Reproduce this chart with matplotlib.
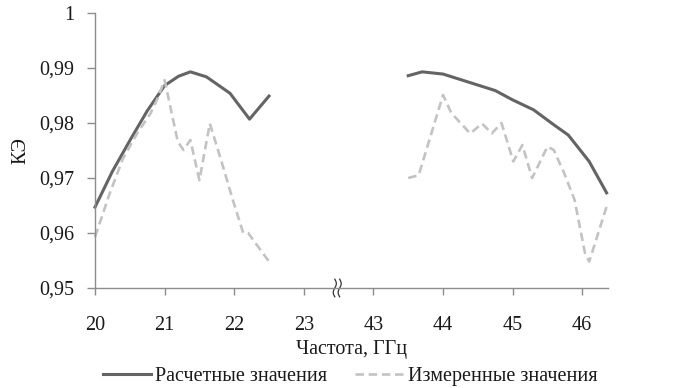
import matplotlib
matplotlib.use("Agg")
import matplotlib.pyplot as plt
import numpy as np

plt.rcParams['font.family'] = ['Liberation Serif', 'DejaVu Serif']

# tick labels of the broken frequency axis
freq_labels = ['20', '21', '22', '23', '43', '44', '45', '46']
y_ticks = [0.95, 0.96, 0.97, 0.98, 0.99, 1.0]
y_labels = ['0,95', '0,96', '0,97', '0,98', '0,99', '1']

# calculated values (solid line)
calc_f_low = [20.0, 20.25, 20.5, 20.75, 21.0, 21.2, 21.37, 21.6, 21.94, 22.22, 22.5]
calc_v_low = [0.9647, 0.9712, 0.9768, 0.9822, 0.9868, 0.9885, 0.9893, 0.9884, 0.9854, 0.9807, 0.9849]
calc_f_high = [43.5, 43.7, 44.0, 44.25, 44.75, 45.0, 45.3, 45.6, 45.8, 46.1, 46.35]
calc_v_high = [0.9886, 0.9893, 0.9889, 0.9879, 0.9859, 0.9842, 0.9824, 0.9796, 0.9778, 0.9730, 0.9673]

# measured values (dashed line)
meas_f_low = [20.0, 20.1, 20.2, 20.4, 20.6, 20.8, 20.9, 21.0, 21.19, 21.27, 21.37,
              21.5, 21.65, 21.82, 21.98, 22.13, 22.2, 22.5]
meas_v_low = [0.9593, 0.9630, 0.9668, 0.9735, 0.9780, 0.9818, 0.9845, 0.9878, 0.9766, 0.9751, 0.9769,
              0.9696, 0.9799, 0.9729, 0.9660, 0.9600, 0.9600, 0.9548]
meas_f_high = [43.5, 43.65, 44.0, 44.12, 44.39, 44.56, 44.7, 44.84, 45.01, 45.14, 45.28,
               45.5, 45.59, 45.74, 45.89, 46.04, 46.1, 46.35]
meas_v_high = [0.9700, 0.9705, 0.9851, 0.9818, 0.9781, 0.9799, 0.9781, 0.9800, 0.9730, 0.9760, 0.9700,
               0.9757, 0.9751, 0.9709, 0.9660, 0.9563, 0.9548, 0.9648]


def to_pos(f):
    # map frequency onto the broken axis: 20..23 -> 0..3, 43..46 -> 4..7
    f = np.asarray(f)
    return np.where(f < 30, f - 20, f - 39)


solid_c = '#646464'
dash_c = '#c3c3c3'
axis_c = '#8c8c8c'
txt_c = '#1a1a1a'
fs = 14.5

fig = plt.figure(figsize=(6.74, 3.88), dpi=100)
ax = fig.add_axes([95 / 674, 1 - 288 / 388, (608 - 95) / 674, (288 - 13) / 388])

ax.plot(to_pos(calc_f_low), calc_v_low, color=solid_c, lw=2.2, label='Расчетные значения',
        solid_joinstyle='round', clip_on=False)
ax.plot(to_pos(calc_f_high), calc_v_high, color=solid_c, lw=2.2, solid_joinstyle='round', clip_on=False)
ax.plot(to_pos(meas_f_low), meas_v_low, color=dash_c, lw=1.9, dashes=(3.2, 1.8),
        label='Измеренные значения', clip_on=False)
ax.plot(to_pos(meas_f_high), meas_v_high, color=dash_c, lw=1.9, dashes=(3.2, 1.8), clip_on=False)

ax.set_xlim(0, 7.37)
ax.set_ylim(0.95, 1.0)
ax.set_xticks(range(len(freq_labels)))
ax.set_xticklabels(freq_labels)
ax.set_yticks(y_ticks)
ax.set_yticklabels(y_labels)

for s in ['top', 'right']:
    ax.spines[s].set_visible(False)
for s in ['left', 'bottom']:
    ax.spines[s].set_color(axis_c)
    ax.spines[s].set_linewidth(1.0)
ax.tick_params(axis='both', colors=axis_c, labelcolor=txt_c, labelsize=fs, width=1.0)
ax.tick_params(axis='x', length=5, pad=15)
ax.tick_params(axis='y', length=6, pad=9)

# axis break mark
t = np.linspace(0, 1, 30)
for dx in (-0.035, 0.035):
    xs = 3.48 + dx + 0.022 * np.sin(t * 2 * np.pi)
    ys = 0.9516 - t * 0.0032
    ax.plot(xs, ys, color='#333333', lw=0.9, clip_on=False)

ax.set_ylabel('КЭ', fontsize=fs, color=txt_c, labelpad=6)
ax.set_xlabel('Частота, ГГц', fontsize=fs, color=txt_c, labelpad=4)

fig.legend(loc='center', bbox_to_anchor=(350 / 674, 1 - 376 / 388), ncol=2, frameon=False,
           fontsize=fs, handlelength=2.4, handletextpad=0.2, columnspacing=1.4,
           labelcolor=txt_c, borderaxespad=0)

fig.savefig('out.png', dpi=100)
